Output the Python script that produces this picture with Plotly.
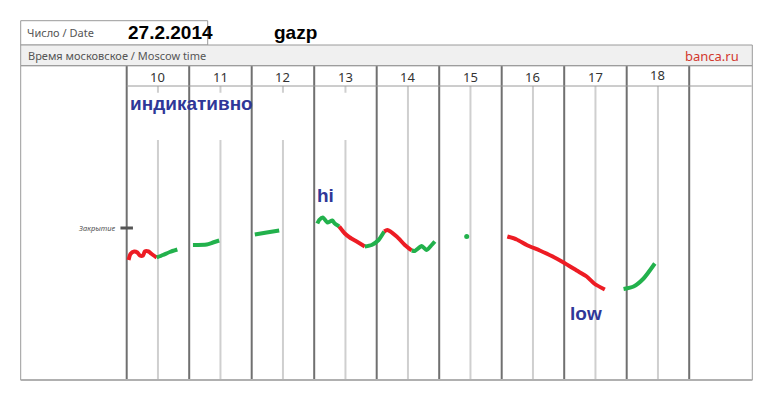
import plotly.graph_objects as go

W, H = 775, 406
PAGE_PAD = 8  # the page body adds an 8px margin around the plot div

# --- data: time of day (hours) and price (rub) ---
hours = [10, 11, 12, 13, 14, 15, 16, 17, 18]
prev_close = 141.00

red1_t = [10.03, 10.06, 10.12, 10.17, 10.21, 10.26, 10.29, 10.35, 10.40, 10.48]
red1_p = [140.36, 140.48, 140.53, 140.51, 140.45, 140.45, 140.53, 140.53, 140.48, 140.41]
green1_t = [10.48, 10.58, 10.69, 10.81]
green1_p = [140.41, 140.46, 140.52, 140.57]
green2_t = [11.06, 11.28, 11.38, 11.48]
green2_p = [140.66, 140.67, 140.71, 140.75]
green3_t = [12.05, 12.24, 12.44]
green3_p = [140.87, 140.91, 140.95]
green4_t = [13.05, 13.08, 13.14, 13.21, 13.29, 13.33, 13.40]
green4_p = [141.09, 141.16, 141.21, 141.11, 141.15, 141.09, 141.03]
red2_t = [13.40, 13.49, 13.57, 13.68, 13.81]
red2_p = [141.03, 140.89, 140.81, 140.73, 140.63]
green5_t = [13.81, 13.92, 14.03, 14.12]
green5_p = [140.63, 140.66, 140.76, 140.93]
red3_t = [14.12, 14.17, 14.32, 14.45, 14.56]
red3_p = [140.93, 140.96, 140.83, 140.66, 140.55]
green6_t = [14.56, 14.61, 14.72, 14.80, 14.88, 14.93]
green6_p = [140.55, 140.54, 140.64, 140.56, 140.66, 140.73]
dot_t = [15.44]
dot_p = [140.83]
red4_t = [16.09, 16.24, 16.40, 16.61, 16.80, 16.99, 17.20, 17.36, 17.49, 17.65]
red4_p = [140.83, 140.77, 140.66, 140.55, 140.44, 140.31, 140.15, 140.03, 139.88, 139.77]
green7_t = [17.95, 18.11, 18.27, 18.45]
green7_p = [139.78, 139.83, 139.99, 140.29]

RED = "#ed1c24"
GREEN = "#22b14c"
INK = "#2f3798"

segments = [
    (red1_t, red1_p, RED), (green1_t, green1_p, GREEN),
    (green2_t, green2_p, GREEN), (green3_t, green3_p, GREEN),
    (green4_t, green4_p, GREEN), (red2_t, red2_p, RED),
    (green5_t, green5_p, GREEN), (red3_t, red3_p, RED),
    (green6_t, green6_p, GREEN), (red4_t, red4_p, RED),
    (green7_t, green7_p, GREEN),
]


def px(x):
    return (x - PAGE_PAD) / W


def py(y):
    return 1 - (y - PAGE_PAD) / H


fig = go.Figure()

for t, p, c in segments:
    fig.add_trace(go.Scatter(
        x=t, y=p, mode="lines",
        line=dict(color=c, width=4, shape="spline", smoothing=0.6),
        hoverinfo="skip",
    ))

fig.add_trace(go.Scatter(x=dot_t, y=dot_p, mode="markers",
                         marker=dict(color=GREEN, size=5), hoverinfo="skip"))

# previous close marker
fig.add_trace(go.Scatter(x=[9.90, 10.10], y=[prev_close, prev_close], mode="lines",
                         line=dict(color="#555555", width=3), hoverinfo="skip"))

shapes = []
border = "#9a9a9a"
# table frame
shapes.append(dict(type="rect", xref="paper", yref="paper", x0=px(20.7), x1=px(207.7),
                   y0=py(45), y1=py(20.7), line=dict(color=border, width=1), fillcolor="white"))
shapes.append(dict(type="rect", xref="paper", yref="paper", x0=px(20.7), x1=px(752.3),
                   y0=py(65.7), y1=py(45), line=dict(color=border, width=1), fillcolor="#f0f0f0"))
shapes.append(dict(type="rect", xref="paper", yref="paper", x0=px(20.7), x1=px(752.3),
                   y0=py(380), y1=py(65.7), line=dict(color=border, width=1)))
shapes.append(dict(type="line", xref="paper", yref="paper", x0=px(20.7), x1=px(752.3),
                   y0=py(380), y1=py(380), line=dict(color="#b0b0b0", width=2)))
shapes.append(dict(type="line", xref="x", yref="paper", x0=hours[0], x1=hours[-1] + 2,
                   y0=py(86), y1=py(86), line=dict(color=border, width=1)))
# half-hour lines
for h in hours:
    shapes.append(dict(type="line", xref="x", yref="paper", x0=h + 0.5, x1=h + 0.5,
                       y0=py(380), y1=py(86), line=dict(color="#cfcfcf", width=2), layer="below"))
# white box behind "индикативно"
shapes.append(dict(type="rect", xref="paper", yref="paper", x0=px(128), x1=px(375.4),
                   y0=py(140), y1=py(92.7), line=dict(width=0), fillcolor="white", layer="below"))
# hour lines
for h in hours + [hours[-1] + 1]:
    shapes.append(dict(type="line", xref="x", yref="paper", x0=h, x1=h,
                       y0=py(380), y1=py(65.7), line=dict(color="#707070", width=2), layer="below"))

ann = []
light = dict(family="Noto Sans, Open Sans, sans-serif", size=11, color="#555555")
ann.append(dict(text="Число / Date", x=px(25), y=py(33), xanchor="left", yanchor="middle", font=light))
ann.append(dict(text="Время московское / Moscow time", x=px(26), y=py(55.5),
                xanchor="left", yanchor="middle", font=light))
ann.append(dict(text="banca.ru", x=px(741), y=py(55.5), xanchor="right", yanchor="middle",
                font=dict(family="Noto Sans, sans-serif", size=13, color="#d2382e")))
bold = dict(family="Liberation Sans, Arial, sans-serif", size=19, color="black")
ann.append(dict(text="<b>27.2.2014</b>", x=px(126), y=py(32), xanchor="left", yanchor="middle", font=bold))
ann.append(dict(text="<b>gazp</b>", x=px(272), y=py(32), xanchor="left", yanchor="middle", font=bold))
for h in hours:
    ann.append(dict(text=str(h), x=h + 0.5, xref="x", y=py(76.5 if h < 18 else 75), yref="paper",
                    xanchor="center", yanchor="middle",
                    font=dict(family="Noto Sans, sans-serif", size=13, color="#333333")))
ink = dict(family="Liberation Sans, Arial, sans-serif", size=19, color=INK)
ann.append(dict(text="<b>индикативно</b>", x=px(128), y=py(104), xanchor="left", yanchor="middle", font=ink))
ann.append(dict(text="<b>hi</b>", x=13.02, xref="x", y=141.66, yref="y",
                xanchor="left", yanchor="middle", font=ink))
ann.append(dict(text="<b>low</b>", x=17.06, xref="x", y=139.29, yref="y",
                xanchor="left", yanchor="middle", font=ink))
ann.append(dict(text="<i>Закрытие</i>", x=9.85, xref="x", y=prev_close, yref="y",
                xanchor="right", yanchor="middle",
                font=dict(family="Noto Sans, sans-serif", size=7.5, color="#555555")))
for a in ann:
    a.setdefault("xref", "paper")
    a.setdefault("yref", "paper")
    a["showarrow"] = False

# axis ranges chosen so that 1 hour = 62.5 px and 0.02 rub = 1 px
fig.update_layout(
    width=W, height=H,
    margin=dict(l=0, r=0, t=0, b=0),
    paper_bgcolor="white",
    plot_bgcolor="white",
    showlegend=False,
    shapes=shapes,
    annotations=ann,
    xaxis=dict(range=[8.1008, 20.5008], visible=False, fixedrange=True),
    yaxis=dict(range=[137.28, 145.40], visible=False, fixedrange=True),
)

fig.write_html("out.html", config={"displayModeBar": False})
